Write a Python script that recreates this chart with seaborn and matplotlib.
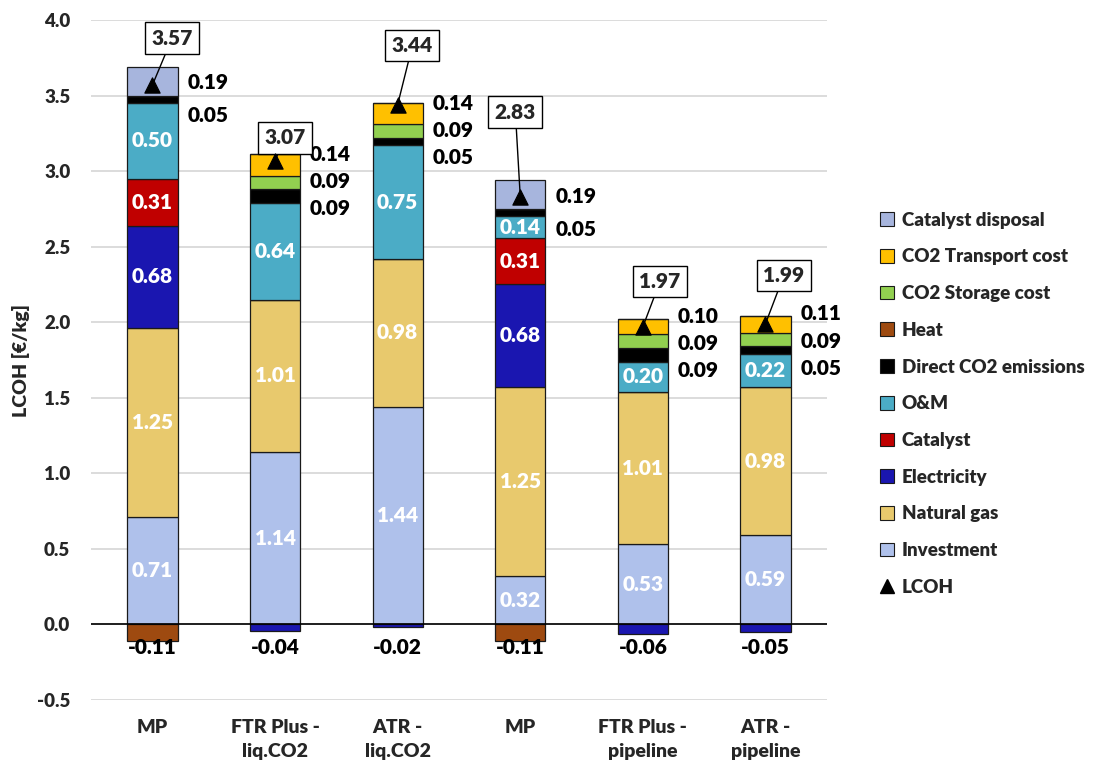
import numpy as np
import pandas as pd
import matplotlib
matplotlib.use("Agg")
import matplotlib.pyplot as plt
from matplotlib.patches import Patch
from matplotlib.lines import Line2D
import seaborn as sns

# ---- data -------------------------------------------------------------
scenarios = ["MP", "FTR Plus -\nliq.CO2", "ATR -\nliq.CO2",
             "MP", "FTR Plus -\npipeline", "ATR -\npipeline"]

investment    = [0.71, 1.14, 1.44, 0.32, 0.53, 0.59]
natural_gas   = [1.25, 1.01, 0.98, 1.25, 1.01, 0.98]
electricity   = [0.68, -0.04, -0.02, 0.68, -0.06, -0.05]
catalyst      = [0.31, 0.00, 0.00, 0.31, 0.00, 0.00]
o_and_m       = [0.50, 0.64, 0.75, 0.14, 0.20, 0.22]
direct_co2    = [0.05, 0.09, 0.05, 0.05, 0.09, 0.05]
heat          = [-0.11, 0.00, 0.00, -0.11, 0.00, 0.00]
co2_storage   = [0.00, 0.09, 0.09, 0.00, 0.09, 0.09]
co2_transport = [0.00, 0.14, 0.14, 0.00, 0.10, 0.11]
cat_disposal  = [0.19, 0.00, 0.00, 0.19, 0.00, 0.00]
lcoh          = [3.57, 3.07, 3.44, 2.83, 1.97, 1.99]

# ---- styling ------------------------------------------------------------
components = [
    ("Investment", investment, "#AFC1EB", "in"),
    ("Natural gas", natural_gas, "#E8C96D", "in"),
    ("Electricity", electricity, "#1A16B0", "in"),
    ("Catalyst", catalyst, "#C00000", "in"),
    ("O&M", o_and_m, "#4BACC6", "in"),
    ("Direct CO2 emissions", direct_co2, "#000000", "out"),
    ("Heat", heat, "#9E4A10", "out"),
    ("CO2 Storage cost", co2_storage, "#92D050", "out"),
    ("CO2 Transport cost", co2_transport, "#FFC000", "out"),
    ("Catalyst disposal", cat_disposal, "#A7B5DD", "out"),
]

# offsets (data units) of the LCOH value boxes from their markers
box_offsets = [(0.16, 0.31), (0.08, 0.15), (0.12, 0.39),
               (-0.04, 0.56), (0.14, 0.30), (0.15, 0.32)]

W = 800      # text weight
LBL = 15     # value label size

sns.set_theme(style="white")
plt.rcParams["font.family"] = ["Lato", "DejaVu Sans"]
plt.rcParams["font.weight"] = W

fig = plt.figure(figsize=(10.98, 7.69), dpi=100)
ax = fig.add_axes([0.083, 0.0897, 0.670, 0.8843])

n = len(scenarios)
pos = np.arange(n)
pos_bottom = np.zeros(n)
neg_bottom = np.zeros(n)
bar_w = 0.41
outside = [[] for _ in range(n)]
neg_total = np.zeros(n)

for name, vals, col, where in components:
    vals = np.asarray(vals, dtype=float)
    bottoms = np.where(vals >= 0, pos_bottom, neg_bottom)
    df = pd.DataFrame({"x": pos, "v": vals})
    sns.barplot(data=df, x="x", y="v", order=list(pos), color=col,
                width=bar_w, bottom=bottoms, edgecolor="#1a1a1a",
                linewidth=0.9, saturation=1, ax=ax, zorder=2, errorbar=None)
    for i, v in enumerate(vals):
        if v > 0:
            if where == "in":
                ax.text(i, bottoms[i] + v / 2, f"{v:.2f}", ha="center",
                        va="center", color="white", fontsize=LBL,
                        fontweight=W, zorder=4)
            else:
                outside[i].append((bottoms[i] + v / 2, v))
        elif v < 0:
            neg_total[i] += v
    pos_bottom = np.where(vals >= 0, pos_bottom + vals, pos_bottom)
    neg_bottom = np.where(vals < 0, neg_bottom + vals, neg_bottom)

# values of the thin top segments, written to the right of each bar
for i, labs in enumerate(outside):
    labs = sorted(labs, key=lambda t: -t[0])
    if not labs:
        continue
    nudge, step = (-0.01, 0.22) if len(labs) == 2 else (0.07, 0.18)
    y0 = labs[0][0] + nudge
    for k, (_, v) in enumerate(labs):
        ax.text(i + bar_w / 2 + 0.08, y0 - k * step, f"{v:.2f}",
                ha="left", va="center", fontsize=LBL, fontweight=W,
                color="black", zorder=4)

# negative contributions below the zero line
for i, v in enumerate(neg_total):
    if v < 0:
        ax.text(i, -0.15, f"{v:.2f}", ha="center", va="center",
                fontsize=LBL, fontweight=W, color="black", zorder=4)

# LCOH markers and boxed values
sns.scatterplot(x=pos, y=lcoh, marker="^", s=120, color="black",
                edgecolor="black", ax=ax, zorder=6, legend=False)
for i, v in enumerate(lcoh):
    dx, dy = box_offsets[i]
    ax.annotate(f"{v:.2f}", xy=(i, v), xytext=(i + dx, v + dy),
                ha="center", va="center", fontsize=LBL, fontweight=W,
                bbox=dict(boxstyle="square,pad=0.3", fc="white", ec="black", lw=1),
                arrowprops=dict(arrowstyle="-", color="black", lw=1,
                                shrinkA=0, shrinkB=0),
                zorder=5)

# axes
ax.set_xlim(-0.5, n - 0.5)
ax.set_ylim(-0.5, 4.0)
yt = np.arange(-0.5, 4.01, 0.5)
ax.set_yticks(yt)
ax.set_yticklabels([f"{t:.1f}" for t in yt], fontweight=W, fontsize=13.5)
ax.set_xticks(pos)
ax.set_xticklabels(scenarios, fontsize=14, fontweight=W,
                   linespacing=1.45)
ax.tick_params(axis="both", length=0)
ax.tick_params(axis="y", pad=15)
ax.tick_params(axis="x", pad=14)
ax.set_xlabel("")
ax.set_ylabel("LCOH [€/kg]", fontsize=14, fontweight=W, labelpad=5)
for t in yt:
    ax.axhline(t, color="#D9D9D9", lw=1.3, zorder=0)
ax.axhline(0, color="black", lw=1.2, zorder=3)
for s in ax.spines.values():
    s.set_visible(False)

# legend
handles = []
for name, vals, col, where in reversed(components):
    handles.append(Patch(facecolor=col, edgecolor="#1a1a1a", lw=0.8, label=name))
handles.append(Line2D([], [], marker="^", color="black", ls="none",
                      markersize=10, label="LCOH"))
fig.legend(handles=handles, loc="center left", bbox_to_anchor=(0.793, 0.475),
           frameon=False, prop=dict(family="Lato", weight=W, size=13.5),
           handlelength=0.75, handleheight=0.75, handletextpad=0.4,
           labelspacing=1.05, borderpad=0)

fig.savefig("out.png", dpi=100)
